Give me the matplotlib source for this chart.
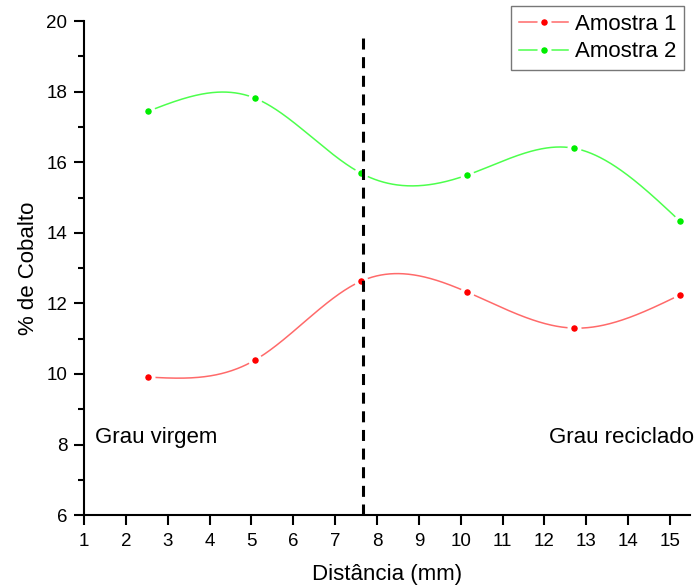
import numpy as np
import matplotlib
matplotlib.use("Agg")
import matplotlib.pyplot as plt
from matplotlib.lines import Line2D

plt.rcParams['font.family'] = ['Liberation Sans', 'DejaVu Sans']

# Measurement positions (mm) and cobalt content (%)
distancia = [2.54, 5.08, 7.62, 10.16, 12.70, 15.24]
amostra1 = [9.91, 10.39, 12.63, 12.32, 11.30, 12.24]
amostra2 = [17.45, 17.82, 15.69, 15.64, 16.40, 14.33]
series_names = ["Amostra 1", "Amostra 2"]
series_colors = ["#ff0000", "#00ee00"]
line_colors = ["#ff6a6a", "#4dff4d"]
fronteira = 7.67
regioes = ["Grau virgem", "Grau reciclado"]


def natural_cubic_spline(x, y, xs):
    x = np.asarray(x, float)
    y = np.asarray(y, float)
    n = len(x)
    h = np.diff(x)
    A = np.zeros((n, n))
    b = np.zeros(n)
    A[0, 0] = A[-1, -1] = 1.0
    for i in range(1, n - 1):
        A[i, i - 1] = h[i - 1]
        A[i, i] = 2 * (h[i - 1] + h[i])
        A[i, i + 1] = h[i]
        b[i] = 3 * ((y[i + 1] - y[i]) / h[i] - (y[i] - y[i - 1]) / h[i - 1])
    c = np.linalg.solve(A, b)
    bcoef = (y[1:] - y[:-1]) / h - h * (2 * c[:-1] + c[1:]) / 3
    d = (c[1:] - c[:-1]) / (3 * h)
    idx = np.clip(np.searchsorted(x, xs) - 1, 0, n - 2)
    dx = xs - x[idx]
    return y[idx] + bcoef[idx] * dx + c[idx] * dx ** 2 + d[idx] * dx ** 3


fig = plt.figure(figsize=(6.97, 5.88), dpi=100)
ax = fig.add_axes([0.1205, 0.124, 0.8695, 0.840])

xs = np.linspace(distancia[0], distancia[-1], 600)
handles = []
for vals, name, mc, lc in zip([amostra1, amostra2], series_names, series_colors, line_colors):
    ys = natural_cubic_spline(distancia, vals, xs)
    ax.plot(xs, ys, color=lc, lw=1.1, zorder=2)
    ax.plot(distancia, vals, ls='none', marker='o', ms=7.4, mfc=mc, mec='white',
            mew=2.7, zorder=3)
    handles.append(Line2D([], [], color=lc, lw=1.1, marker='o', ms=7.4, mfc=mc,
                          mec='white', mew=2.7, label=name))

ax.axvline(fronteira, ymin=0, ymax=(19.62 - 6) / 14, color='black', lw=2.2,
           ls=(0, (3.6, 2.5)), zorder=4)

ax.text(1.27, 8.2, regioes[0], fontsize=16, va='center', ha='left')
ax.text(15.57, 8.2, regioes[1], fontsize=16, va='center', ha='right', clip_on=False)

ax.set_xlim(1, 15.48)
ax.set_ylim(6, 20)
ax.set_xticks(range(1, 16))
ax.set_yticks(range(6, 21, 2))
ax.set_yticks(range(7, 20, 2), minor=True)

for s in ['top', 'right']:
    ax.spines[s].set_visible(False)
for s in ['left', 'bottom']:
    ax.spines[s].set_linewidth(1.5)

ax.tick_params(axis='both', which='major', direction='out', length=7, width=1.5,
               labelsize=13.5, pad=5)
ax.tick_params(axis='x', which='major', pad=6)
ax.tick_params(axis='y', which='minor', direction='out', length=4.5, width=1.5)

ax.set_xlabel("Distância (mm)", fontsize=16, labelpad=10)
ax.set_ylabel("% de Cobalto", fontsize=16, labelpad=5)

leg = ax.legend(handles=handles, loc='upper right',
                bbox_to_anchor=(684 / 697, 1 - 6 / 588), bbox_transform=fig.transFigure,
                fontsize=16, frameon=True, fancybox=False, edgecolor='#555555',
                handlelength=2.2, borderpad=0.35, labelspacing=0.3, handletextpad=0.3,
                borderaxespad=0.0)
leg.get_frame().set_linewidth(1.0)

fig.savefig("out.png", dpi=100)
